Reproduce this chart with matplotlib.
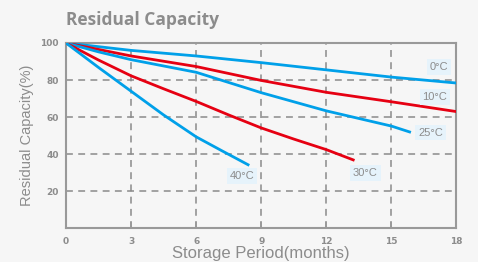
import matplotlib.pyplot as plt

# months vs residual capacity (%)
months_0c = [0, 3, 6, 9, 12, 15, 18]
cap_0c = [100, 96, 93, 89.4, 85.5, 81.6, 78.4]

months_10c = [0, 3, 6, 9, 12, 15, 18]
cap_10c = [100, 93, 87.3, 79.8, 73.4, 68.3, 63]

months_25c = [0, 1.5, 3, 6, 9, 12, 15, 15.9]
cap_25c = [100, 95.2, 91, 84.2, 73.2, 63.4, 55.2, 51.8]

months_30c = [0, 1.5, 3, 4.5, 6, 7.5, 9, 10.5, 12, 13.3]
cap_30c = [100, 90.8, 82.3, 75.3, 68.5, 61.2, 54.2, 48.2, 42.5, 36.7]

months_40c = [0, 1.5, 3, 4.5, 6, 7.2, 8.45]
cap_40c = [100, 86.8, 74, 61.2, 49.4, 41.8, 34]

labels = ['0\u00b0C', '10\u00b0C', '25\u00b0C', '30\u00b0C', '40\u00b0C']
label_x = [17.2, 17.0, 16.8, 13.8, 8.1]
label_y = [87, 71, 51.7, 29.8, 28.3]

x_ticks = [0, 3, 6, 9, 12, 15, 18]
y_ticks = [20, 40, 60, 80, 100]

BLUE = '#00a0e9'
RED = '#e60012'
GRAY = '#999999'
BG = '#f6f6f6'


def main():
    fig = plt.figure(figsize=(4.78, 2.62), dpi=100, facecolor=BG)
    ax = fig.add_axes([0.138, 0.128, 0.817, 0.708], facecolor=BG)

    ax.set_xlim(0, 18)
    ax.set_ylim(0, 100)

    for y in y_ticks[:-1]:
        ax.axhline(y, color='#8a8a8a', lw=1.1, ls=(0, (4.5, 3.5)), zorder=1)
    for x in x_ticks[1:-1]:
        ax.axvline(x, color='#8a8a8a', lw=1.1, ls=(0, (4.5, 3.5)), zorder=1)

    ax.plot(months_0c, cap_0c, color=BLUE, lw=2.0, zorder=3, solid_capstyle='butt')
    ax.plot(months_10c, cap_10c, color=RED, lw=2.0, zorder=3, solid_capstyle='butt')
    ax.plot(months_25c, cap_25c, color=BLUE, lw=2.0, zorder=3, solid_capstyle='butt')
    ax.plot(months_30c, cap_30c, color=RED, lw=2.0, zorder=3, solid_capstyle='butt')
    ax.plot(months_40c, cap_40c, color=BLUE, lw=2.0, zorder=3, solid_capstyle='butt')

    for text, x, y in zip(labels, label_x, label_y):
        ax.text(x, y, text, ha='center', va='center', fontsize=8,
                color='#8c8c8c', family='Liberation Sans', zorder=4,
                bbox=dict(boxstyle='square,pad=0.25', fc='#e6f3fb', ec='none'))

    for side in ax.spines.values():
        side.set_color(GRAY)
        side.set_linewidth(1.5)

    ax.set_xticks(x_ticks)
    ax.set_yticks(y_ticks)
    ax.tick_params(axis='x', direction='in', length=4, width=1.2, color=GRAY,
                   labelsize=6.5, labelcolor='#8c8c8c', pad=6)
    ax.tick_params(axis='y', length=0, labelsize=6.5, labelcolor='#8c8c8c', pad=5)
    for lbl in ax.get_xticklabels() + ax.get_yticklabels():
        lbl.set_fontweight('bold')

    ax.set_xlabel('Storage Period(months)', fontsize=12, color='#8c8c8c',
                  family='Liberation Sans', labelpad=0)
    ax.set_ylabel('Residual Capacity(%)', fontsize=10.5, color='#8c8c8c',
                  family='Liberation Sans', labelpad=5)

    fig.text(0.138, 0.922, 'Residual Capacity', fontsize=12.5, fontweight='bold',
             color='#8c8c8c', family='Open Sans', va='center', ha='left')

    fig.savefig('out.png', dpi=100, facecolor=BG)


if __name__ == '__main__':
    main()
